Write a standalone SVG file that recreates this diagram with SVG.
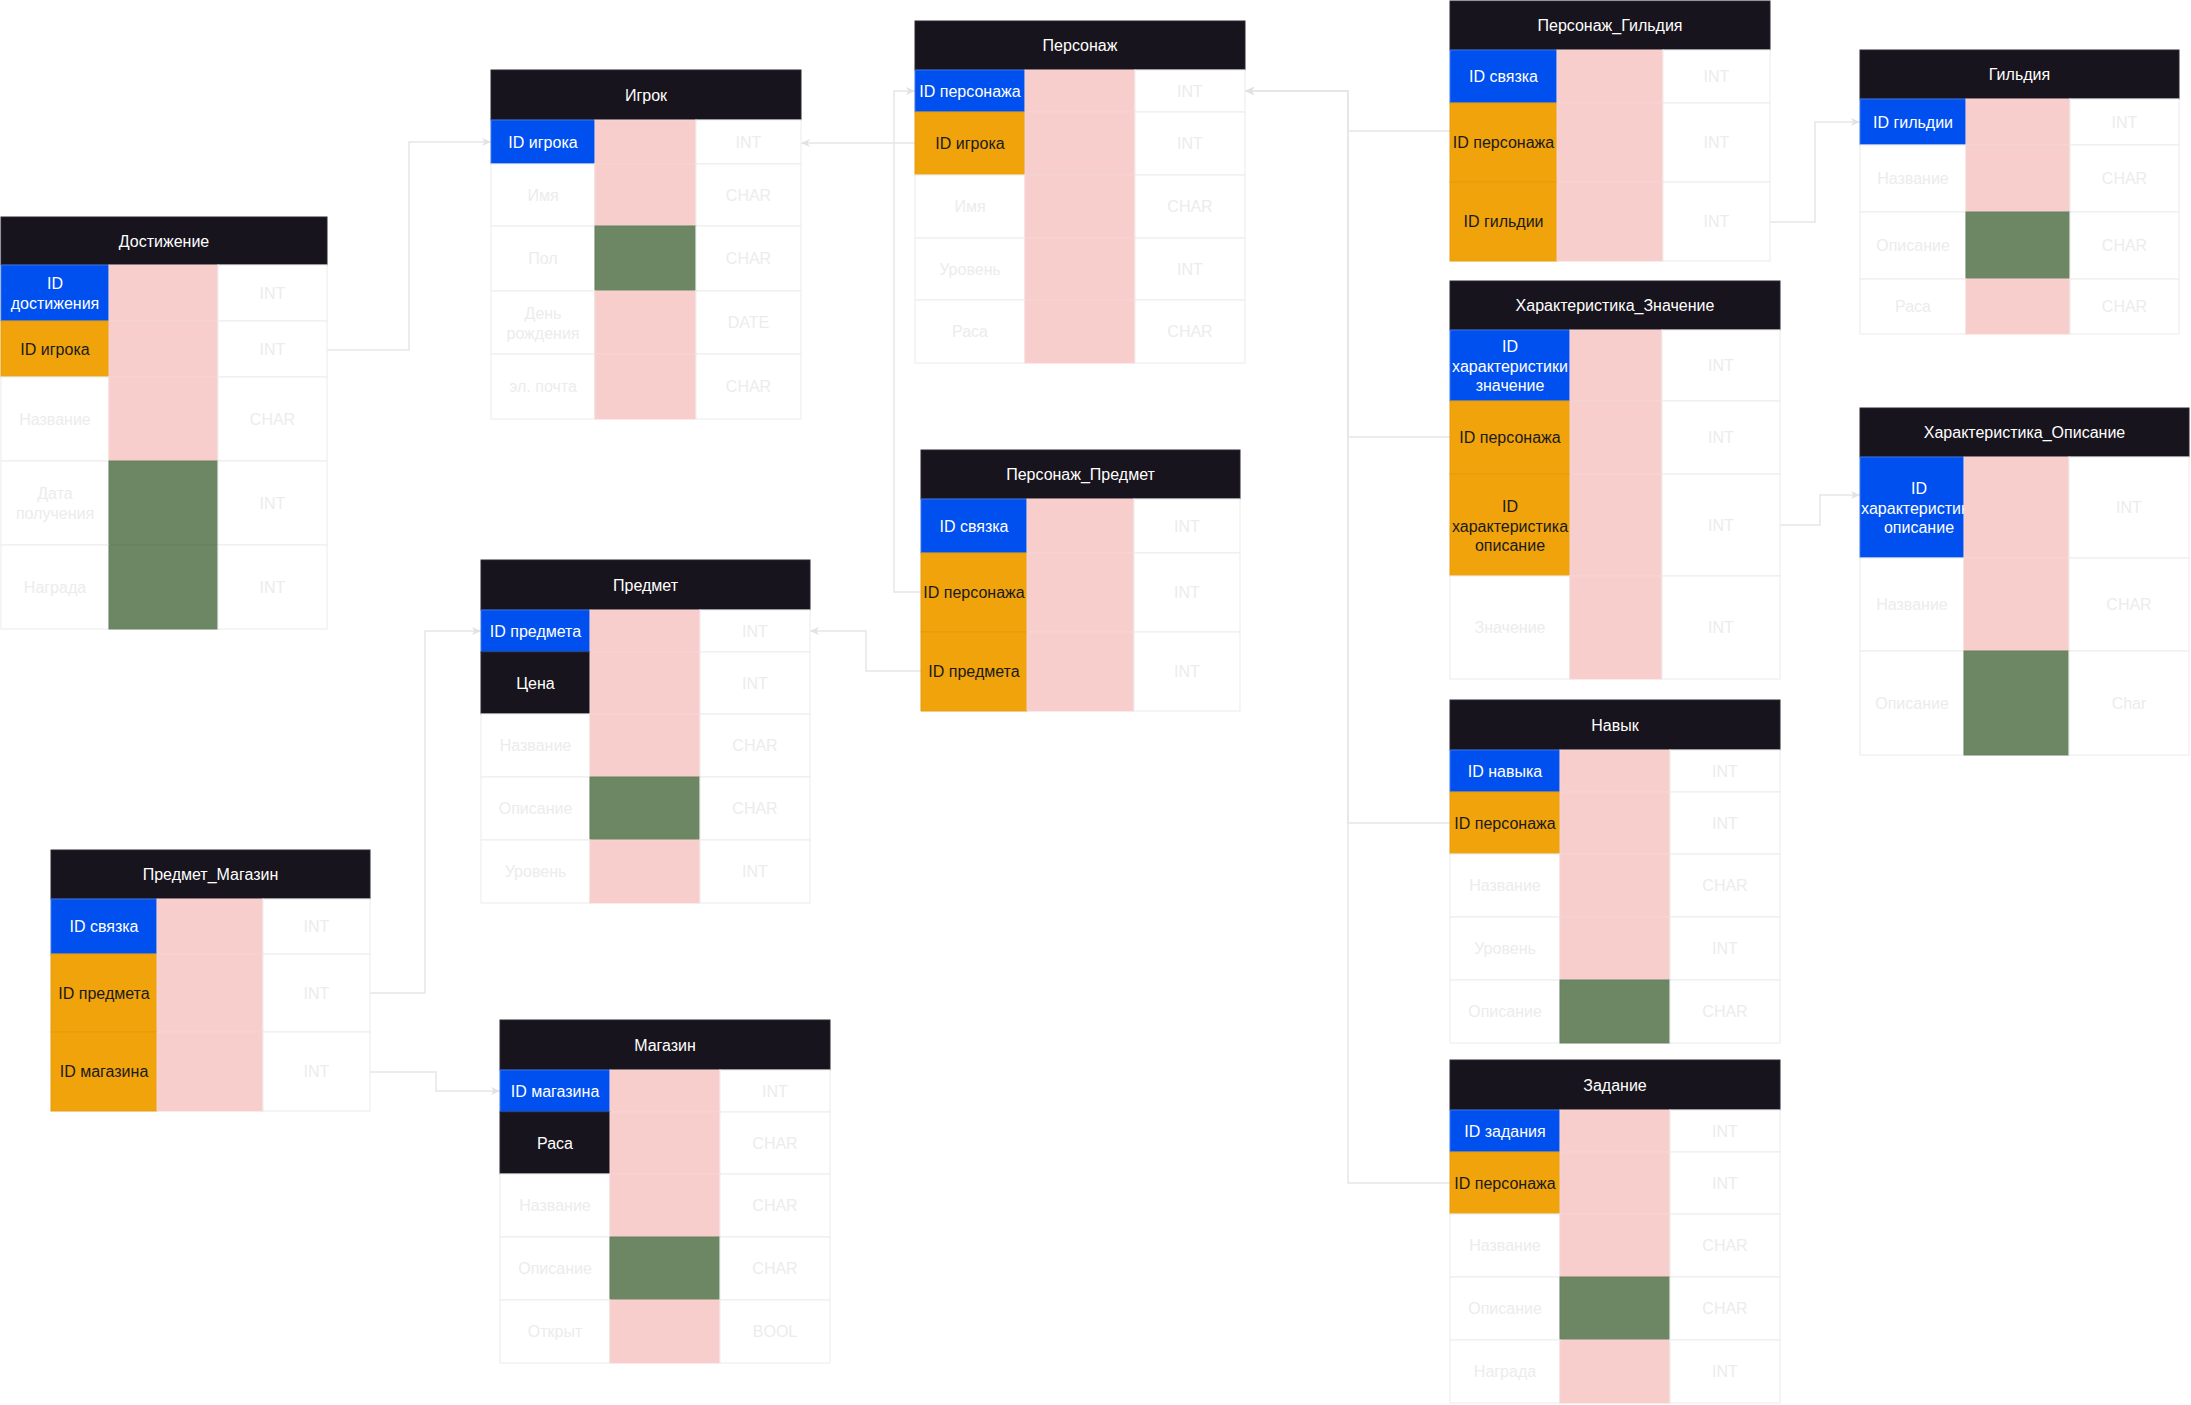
<svg xmlns="http://www.w3.org/2000/svg" width="2191" height="1405" viewBox="0 0 2191 1405">
<defs>
<style>
text{font-family:"Liberation Sans",Arial,sans-serif;font-size:16px;text-anchor:middle;dominant-baseline:central}
.hd{fill:#18141d;stroke:#2a2630;stroke-width:1}
.ht{fill:#ffffff}
.pk{fill:#0050ef;stroke:#3c74e8;stroke-width:1}
.fk{fill:#f0a30a;stroke:#e39c0c;stroke-width:1}
.dk{fill:#18141d;stroke:#2a2630;stroke-width:1}
.cell{fill:#ffffff;stroke:#eeeeee;stroke-width:1.2}
.pink{fill:#f8cecc;stroke:#f6d3d1;stroke-width:1}
.green{fill:#6d8764;stroke:#64805c;stroke-width:1}
.tw{fill:#ffffff}
.tb{fill:#1a1a1a}
.tf{fill:#ececec}
.con{fill:none;stroke:#e6e6e6;stroke-width:1.5}
</style>
<marker id="arr" markerWidth="10" markerHeight="10" refX="9" refY="5" orient="auto" markerUnits="userSpaceOnUse">
<path d="M0,1 L9,5 L0,9 L2.5,5 Z" fill="#e2e2e2"/>
</marker>
<clipPath id="clipHO"><rect x="1860" y="457" width="104" height="101"/></clipPath>
</defs>
<rect x="0" y="0" width="2191" height="1405" fill="#ffffff"/>

<g id="connectors">
<path class="con" d="M327,350 H409 V142 H491" marker-end="url(#arr)"/>
<path class="con" d="M915,143 H801" marker-end="url(#arr)"/>
<path class="con" d="M921,592 H894 V91 H915" marker-end="url(#arr)"/>
<path class="con" d="M921,671 H866 V631 H810" marker-end="url(#arr)"/>
<path class="con" d="M1450,131 H1348 V91 H1245" marker-end="url(#arr)"/>
<path class="con" d="M1450,437 H1348 V91 H1245" marker-end="url(#arr)"/>
<path class="con" d="M1450,823 H1348 V91 H1245" marker-end="url(#arr)"/>
<path class="con" d="M1450,1183 H1348 V91 H1245" marker-end="url(#arr)"/>
<path class="con" d="M1770,222 H1815 V122 H1860" marker-end="url(#arr)"/>
<path class="con" d="M1780,525 H1820 V495 H1860" marker-end="url(#arr)"/>
<path class="con" d="M370,993 H425 V631 H481" marker-end="url(#arr)"/>
<path class="con" d="M370,1072 H436 V1091 H500" marker-end="url(#arr)"/>
</g>

<g id="t-dostizhenie">
<rect class="hd" x="1" y="217" width="326" height="48"/>
<text class="ht" x="164" y="241">Достижение</text>
<rect class="pk" x="1" y="265" width="108" height="56"/><rect class="pink" x="109" y="265" width="109" height="56"/><rect class="cell" x="218" y="265" width="109" height="56"/>
<text class="tw" y="283"><tspan x="55">ID</tspan><tspan x="55" dy="20">достижения</tspan></text><text class="tf" x="272.5" y="293">INT</text>
<rect class="fk" x="1" y="321" width="108" height="56"/><rect class="pink" x="109" y="321" width="109" height="56"/><rect class="cell" x="218" y="321" width="109" height="56"/>
<text class="tb" x="55" y="349">ID игрока</text><text class="tf" x="272.5" y="349">INT</text>
<rect class="cell" x="1" y="377" width="108" height="84"/><rect class="pink" x="109" y="377" width="109" height="84"/><rect class="cell" x="218" y="377" width="109" height="84"/>
<text class="tf" x="55" y="419">Название</text><text class="tf" x="272.5" y="419">CHAR</text>
<rect class="cell" x="1" y="461" width="108" height="84"/><rect class="green" x="109" y="461" width="109" height="84"/><rect class="cell" x="218" y="461" width="109" height="84"/>
<text class="tf" y="493"><tspan x="55">Дата</tspan><tspan x="55" dy="20">получения</tspan></text><text class="tf" x="272.5" y="503">INT</text>
<rect class="cell" x="1" y="545" width="108" height="84"/><rect class="green" x="109" y="545" width="109" height="84"/><rect class="cell" x="218" y="545" width="109" height="84"/>
<text class="tf" x="55" y="587">Награда</text><text class="tf" x="272.5" y="587">INT</text>
</g>

<g id="t-igrok">
<rect class="hd" x="491" y="70" width="310" height="50"/>
<text class="ht" x="646" y="95">Игрок</text>
<rect class="pk" x="491" y="120" width="104" height="44"/><rect class="pink" x="595" y="120" width="101" height="44"/><rect class="cell" x="696" y="120" width="105" height="44"/>
<text class="tw" x="543" y="142">ID игрока</text><text class="tf" x="748.5" y="142">INT</text>
<rect class="cell" x="491" y="164" width="104" height="62"/><rect class="pink" x="595" y="164" width="101" height="62"/><rect class="cell" x="696" y="164" width="105" height="62"/>
<text class="tf" x="543" y="195">Имя</text><text class="tf" x="748.5" y="195">CHAR</text>
<rect class="cell" x="491" y="226" width="104" height="65"/><rect class="green" x="595" y="226" width="101" height="65"/><rect class="cell" x="696" y="226" width="105" height="65"/>
<text class="tf" x="543" y="258.5">Пол</text><text class="tf" x="748.5" y="258.5">CHAR</text>
<rect class="cell" x="491" y="291" width="104" height="63"/><rect class="pink" x="595" y="291" width="101" height="63"/><rect class="cell" x="696" y="291" width="105" height="63"/>
<text class="tf" y="313"><tspan x="543">День</tspan><tspan x="543" dy="20">рождения</tspan></text><text class="tf" x="748.5" y="322.5">DATE</text>
<rect class="cell" x="491" y="354" width="104" height="65"/><rect class="pink" x="595" y="354" width="101" height="65"/><rect class="cell" x="696" y="354" width="105" height="65"/>
<text class="tf" x="543" y="386.5">эл. почта</text><text class="tf" x="748.5" y="386.5">CHAR</text>
</g>

<g id="t-personazh">
<rect class="hd" x="915" y="21" width="330" height="49"/>
<text class="ht" x="1080" y="45.5">Персонаж</text>
<rect class="pk" x="915" y="70" width="110" height="42"/><rect class="pink" x="1025" y="70" width="110" height="42"/><rect class="cell" x="1135" y="70" width="110" height="42"/>
<text class="tw" x="970" y="91">ID персонажа</text><text class="tf" x="1190" y="91">INT</text>
<rect class="fk" x="915" y="112" width="110" height="63"/><rect class="pink" x="1025" y="112" width="110" height="63"/><rect class="cell" x="1135" y="112" width="110" height="63"/>
<text class="tb" x="970" y="143.5">ID игрока</text><text class="tf" x="1190" y="143.5">INT</text>
<rect class="cell" x="915" y="175" width="110" height="63"/><rect class="pink" x="1025" y="175" width="110" height="63"/><rect class="cell" x="1135" y="175" width="110" height="63"/>
<text class="tf" x="970" y="206.5">Имя</text><text class="tf" x="1190" y="206.5">CHAR</text>
<rect class="cell" x="915" y="238" width="110" height="62"/><rect class="pink" x="1025" y="238" width="110" height="62"/><rect class="cell" x="1135" y="238" width="110" height="62"/>
<text class="tf" x="970" y="269">Уровень</text><text class="tf" x="1190" y="269">INT</text>
<rect class="cell" x="915" y="300" width="110" height="63"/><rect class="pink" x="1025" y="300" width="110" height="63"/><rect class="cell" x="1135" y="300" width="110" height="63"/>
<text class="tf" x="970" y="331.5">Раса</text><text class="tf" x="1190" y="331.5">CHAR</text>
</g>

<g id="t-personazh-gildiya">
<rect class="hd" x="1450" y="1" width="320" height="49"/>
<text class="ht" x="1610" y="25.5">Персонаж_Гильдия</text>
<rect class="pk" x="1450" y="50" width="107" height="53"/><rect class="pink" x="1557" y="50" width="106" height="53"/><rect class="cell" x="1663" y="50" width="107" height="53"/>
<text class="tw" x="1503.5" y="76.5">ID связка</text><text class="tf" x="1716.5" y="76.5">INT</text>
<rect class="fk" x="1450" y="103" width="107" height="79"/><rect class="pink" x="1557" y="103" width="106" height="79"/><rect class="cell" x="1663" y="103" width="107" height="79"/>
<text class="tb" x="1503.5" y="142.5">ID персонажа</text><text class="tf" x="1716.5" y="142.5">INT</text>
<rect class="fk" x="1450" y="182" width="107" height="79"/><rect class="pink" x="1557" y="182" width="106" height="79"/><rect class="cell" x="1663" y="182" width="107" height="79"/>
<text class="tb" x="1503.5" y="221.5">ID гильдии</text><text class="tf" x="1716.5" y="221.5">INT</text>
</g>

<g id="t-gildiya">
<rect class="hd" x="1860" y="50" width="319" height="49"/>
<text class="ht" x="2019.5" y="74.5">Гильдия</text>
<rect class="pk" x="1860" y="99" width="106" height="46"/><rect class="pink" x="1966" y="99" width="104" height="46"/><rect class="cell" x="2070" y="99" width="109" height="46"/>
<text class="tw" x="1913" y="122">ID гильдии</text><text class="tf" x="2124.5" y="122">INT</text>
<rect class="cell" x="1860" y="145" width="106" height="67"/><rect class="pink" x="1966" y="145" width="104" height="67"/><rect class="cell" x="2070" y="145" width="109" height="67"/>
<text class="tf" x="1913" y="178.5">Название</text><text class="tf" x="2124.5" y="178.5">CHAR</text>
<rect class="cell" x="1860" y="212" width="106" height="67"/><rect class="green" x="1966" y="212" width="104" height="67"/><rect class="cell" x="2070" y="212" width="109" height="67"/>
<text class="tf" x="1913" y="245.5">Описание</text><text class="tf" x="2124.5" y="245.5">CHAR</text>
<rect class="cell" x="1860" y="279" width="106" height="55"/><rect class="pink" x="1966" y="279" width="104" height="55"/><rect class="cell" x="2070" y="279" width="109" height="55"/>
<text class="tf" x="1913" y="306.5">Раса</text><text class="tf" x="2124.5" y="306.5">CHAR</text>
</g>

<g id="t-harakteristika-znachenie">
<rect class="hd" x="1450" y="281" width="330" height="49"/>
<text class="ht" x="1615" y="305.5">Характеристика_Значение</text>
<rect class="pk" x="1450" y="330" width="120" height="71"/><rect class="pink" x="1570" y="330" width="92" height="71"/><rect class="cell" x="1662" y="330" width="118" height="71"/>
<text class="tw" y="346"><tspan x="1510">ID</tspan><tspan x="1510" dy="19.5">характеристики</tspan><tspan x="1510" dy="19.5">значение</tspan></text><text class="tf" x="1721" y="365.5">INT</text>
<rect class="fk" x="1450" y="401" width="120" height="73"/><rect class="pink" x="1570" y="401" width="92" height="73"/><rect class="cell" x="1662" y="401" width="118" height="73"/>
<text class="tb" x="1510" y="437.5">ID персонажа</text><text class="tf" x="1721" y="437.5">INT</text>
<rect class="fk" x="1450" y="474" width="120" height="102"/><rect class="pink" x="1570" y="474" width="92" height="102"/><rect class="cell" x="1662" y="474" width="118" height="102"/>
<text class="tb" y="506"><tspan x="1510">ID</tspan><tspan x="1510" dy="19.5">характеристика</tspan><tspan x="1510" dy="19.5">описание</tspan></text><text class="tf" x="1721" y="525">INT</text>
<rect class="cell" x="1450" y="576" width="120" height="103"/><rect class="pink" x="1570" y="576" width="92" height="103"/><rect class="cell" x="1662" y="576" width="118" height="103"/>
<text class="tf" x="1510" y="627.5">Значение</text><text class="tf" x="1721" y="627.5">INT</text>
</g>

<g id="t-harakteristika-opisanie">
<rect class="hd" x="1860" y="408" width="329" height="49"/>
<text class="ht" x="2024.5" y="432.5">Характеристика_Описание</text>
<rect class="pk" x="1860" y="457" width="104" height="101"/><rect class="pink" x="1964" y="457" width="105" height="101"/><rect class="cell" x="2069" y="457" width="120" height="101"/>
<text class="tw" y="488" clip-path="url(#clipHO)"><tspan x="1919">ID</tspan><tspan x="1919" dy="19.5">характеристики</tspan><tspan x="1919" dy="19.5">описание</tspan></text><text class="tf" x="2129" y="507.5">INT</text>
<rect class="cell" x="1860" y="558" width="104" height="93"/><rect class="pink" x="1964" y="558" width="105" height="93"/><rect class="cell" x="2069" y="558" width="120" height="93"/>
<text class="tf" x="1912" y="604.5">Название</text><text class="tf" x="2129" y="604.5">CHAR</text>
<rect class="cell" x="1860" y="651" width="104" height="104"/><rect class="green" x="1964" y="651" width="105" height="104"/><rect class="cell" x="2069" y="651" width="120" height="104"/>
<text class="tf" x="1912" y="703">Описание</text><text class="tf" x="2129" y="703">Char</text>
</g>

<g id="t-personazh-predmet">
<rect class="hd" x="921" y="450" width="319" height="49"/>
<text class="ht" x="1080.5" y="474.5">Персонаж_Предмет</text>
<rect class="pk" x="921" y="499" width="106" height="54"/><rect class="pink" x="1027" y="499" width="107" height="54"/><rect class="cell" x="1134" y="499" width="106" height="54"/>
<text class="tw" x="974" y="526">ID связка</text><text class="tf" x="1187" y="526">INT</text>
<rect class="fk" x="921" y="553" width="106" height="79"/><rect class="pink" x="1027" y="553" width="107" height="79"/><rect class="cell" x="1134" y="553" width="106" height="79"/>
<text class="tb" x="974" y="592.5">ID персонажа</text><text class="tf" x="1187" y="592.5">INT</text>
<rect class="fk" x="921" y="632" width="106" height="79"/><rect class="pink" x="1027" y="632" width="107" height="79"/><rect class="cell" x="1134" y="632" width="106" height="79"/>
<text class="tb" x="974" y="671.5">ID предмета</text><text class="tf" x="1187" y="671.5">INT</text>
</g>

<g id="t-predmet">
<rect class="hd" x="481" y="560" width="329" height="50"/>
<text class="ht" x="645.5" y="585">Предмет</text>
<rect class="pk" x="481" y="610" width="109" height="42"/><rect class="pink" x="590" y="610" width="110" height="42"/><rect class="cell" x="700" y="610" width="110" height="42"/>
<text class="tw" x="535.5" y="631">ID предмета</text><text class="tf" x="755" y="631">INT</text>
<rect class="dk" x="481" y="652" width="109" height="62"/><rect class="pink" x="590" y="652" width="110" height="62"/><rect class="cell" x="700" y="652" width="110" height="62"/>
<text class="tw" x="535.5" y="683">Цена</text><text class="tf" x="755" y="683">INT</text>
<rect class="cell" x="481" y="714" width="109" height="63"/><rect class="pink" x="590" y="714" width="110" height="63"/><rect class="cell" x="700" y="714" width="110" height="63"/>
<text class="tf" x="535.5" y="745.5">Название</text><text class="tf" x="755" y="745.5">CHAR</text>
<rect class="cell" x="481" y="777" width="109" height="63"/><rect class="green" x="590" y="777" width="110" height="63"/><rect class="cell" x="700" y="777" width="110" height="63"/>
<text class="tf" x="535.5" y="808.5">Описание</text><text class="tf" x="755" y="808.5">CHAR</text>
<rect class="cell" x="481" y="840" width="109" height="63"/><rect class="pink" x="590" y="840" width="110" height="63"/><rect class="cell" x="700" y="840" width="110" height="63"/>
<text class="tf" x="535.5" y="871.5">Уровень</text><text class="tf" x="755" y="871.5">INT</text>
</g>

<g id="t-predmet-magazin">
<rect class="hd" x="51" y="850" width="319" height="49"/>
<text class="ht" x="210.5" y="874.5">Предмет_Магазин</text>
<rect class="pk" x="51" y="899" width="106" height="55"/><rect class="pink" x="157" y="899" width="106" height="55"/><rect class="cell" x="263" y="899" width="107" height="55"/>
<text class="tw" x="104" y="926.5">ID связка</text><text class="tf" x="316.5" y="926.5">INT</text>
<rect class="fk" x="51" y="954" width="106" height="78"/><rect class="pink" x="157" y="954" width="106" height="78"/><rect class="cell" x="263" y="954" width="107" height="78"/>
<text class="tb" x="104" y="993">ID предмета</text><text class="tf" x="316.5" y="993">INT</text>
<rect class="fk" x="51" y="1032" width="106" height="79"/><rect class="pink" x="157" y="1032" width="106" height="79"/><rect class="cell" x="263" y="1032" width="107" height="79"/>
<text class="tb" x="104" y="1071.5">ID магазина</text><text class="tf" x="316.5" y="1071.5">INT</text>
</g>

<g id="t-magazin">
<rect class="hd" x="500" y="1020" width="330" height="50"/>
<text class="ht" x="665" y="1045">Магазин</text>
<rect class="pk" x="500" y="1070" width="110" height="42"/><rect class="pink" x="610" y="1070" width="110" height="42"/><rect class="cell" x="720" y="1070" width="110" height="42"/>
<text class="tw" x="555" y="1091">ID магазина</text><text class="tf" x="775" y="1091">INT</text>
<rect class="dk" x="500" y="1112" width="110" height="62"/><rect class="pink" x="610" y="1112" width="110" height="62"/><rect class="cell" x="720" y="1112" width="110" height="62"/>
<text class="tw" x="555" y="1143">Раса</text><text class="tf" x="775" y="1143">CHAR</text>
<rect class="cell" x="500" y="1174" width="110" height="63"/><rect class="pink" x="610" y="1174" width="110" height="63"/><rect class="cell" x="720" y="1174" width="110" height="63"/>
<text class="tf" x="555" y="1205.5">Название</text><text class="tf" x="775" y="1205.5">CHAR</text>
<rect class="cell" x="500" y="1237" width="110" height="63"/><rect class="green" x="610" y="1237" width="110" height="63"/><rect class="cell" x="720" y="1237" width="110" height="63"/>
<text class="tf" x="555" y="1268.5">Описание</text><text class="tf" x="775" y="1268.5">CHAR</text>
<rect class="cell" x="500" y="1300" width="110" height="63"/><rect class="pink" x="610" y="1300" width="110" height="63"/><rect class="cell" x="720" y="1300" width="110" height="63"/>
<text class="tf" x="555" y="1331.5">Открыт</text><text class="tf" x="775" y="1331.5">BOOL</text>
</g>

<g id="t-navyk">
<rect class="hd" x="1450" y="700" width="330" height="50"/>
<text class="ht" x="1615" y="725">Навык</text>
<rect class="pk" x="1450" y="750" width="110" height="42"/><rect class="pink" x="1560" y="750" width="110" height="42"/><rect class="cell" x="1670" y="750" width="110" height="42"/>
<text class="tw" x="1505" y="771">ID навыка</text><text class="tf" x="1725" y="771">INT</text>
<rect class="fk" x="1450" y="792" width="110" height="62"/><rect class="pink" x="1560" y="792" width="110" height="62"/><rect class="cell" x="1670" y="792" width="110" height="62"/>
<text class="tb" x="1505" y="823">ID персонажа</text><text class="tf" x="1725" y="823">INT</text>
<rect class="cell" x="1450" y="854" width="110" height="63"/><rect class="pink" x="1560" y="854" width="110" height="63"/><rect class="cell" x="1670" y="854" width="110" height="63"/>
<text class="tf" x="1505" y="885.5">Название</text><text class="tf" x="1725" y="885.5">CHAR</text>
<rect class="cell" x="1450" y="917" width="110" height="63"/><rect class="pink" x="1560" y="917" width="110" height="63"/><rect class="cell" x="1670" y="917" width="110" height="63"/>
<text class="tf" x="1505" y="948.5">Уровень</text><text class="tf" x="1725" y="948.5">INT</text>
<rect class="cell" x="1450" y="980" width="110" height="63"/><rect class="green" x="1560" y="980" width="110" height="63"/><rect class="cell" x="1670" y="980" width="110" height="63"/>
<text class="tf" x="1505" y="1011.5">Описание</text><text class="tf" x="1725" y="1011.5">CHAR</text>
</g>

<g id="t-zadanie">
<rect class="hd" x="1450" y="1060" width="330" height="50"/>
<text class="ht" x="1615" y="1085">Задание</text>
<rect class="pk" x="1450" y="1110" width="110" height="42"/><rect class="pink" x="1560" y="1110" width="110" height="42"/><rect class="cell" x="1670" y="1110" width="110" height="42"/>
<text class="tw" x="1505" y="1131">ID задания</text><text class="tf" x="1725" y="1131">INT</text>
<rect class="fk" x="1450" y="1152" width="110" height="62"/><rect class="pink" x="1560" y="1152" width="110" height="62"/><rect class="cell" x="1670" y="1152" width="110" height="62"/>
<text class="tb" x="1505" y="1183">ID персонажа</text><text class="tf" x="1725" y="1183">INT</text>
<rect class="cell" x="1450" y="1214" width="110" height="63"/><rect class="pink" x="1560" y="1214" width="110" height="63"/><rect class="cell" x="1670" y="1214" width="110" height="63"/>
<text class="tf" x="1505" y="1245.5">Название</text><text class="tf" x="1725" y="1245.5">CHAR</text>
<rect class="cell" x="1450" y="1277" width="110" height="63"/><rect class="green" x="1560" y="1277" width="110" height="63"/><rect class="cell" x="1670" y="1277" width="110" height="63"/>
<text class="tf" x="1505" y="1308.5">Описание</text><text class="tf" x="1725" y="1308.5">CHAR</text>
<rect class="cell" x="1450" y="1340" width="110" height="63"/><rect class="pink" x="1560" y="1340" width="110" height="63"/><rect class="cell" x="1670" y="1340" width="110" height="63"/>
<text class="tf" x="1505" y="1371.5">Награда</text><text class="tf" x="1725" y="1371.5">INT</text>
</g>
</svg>
